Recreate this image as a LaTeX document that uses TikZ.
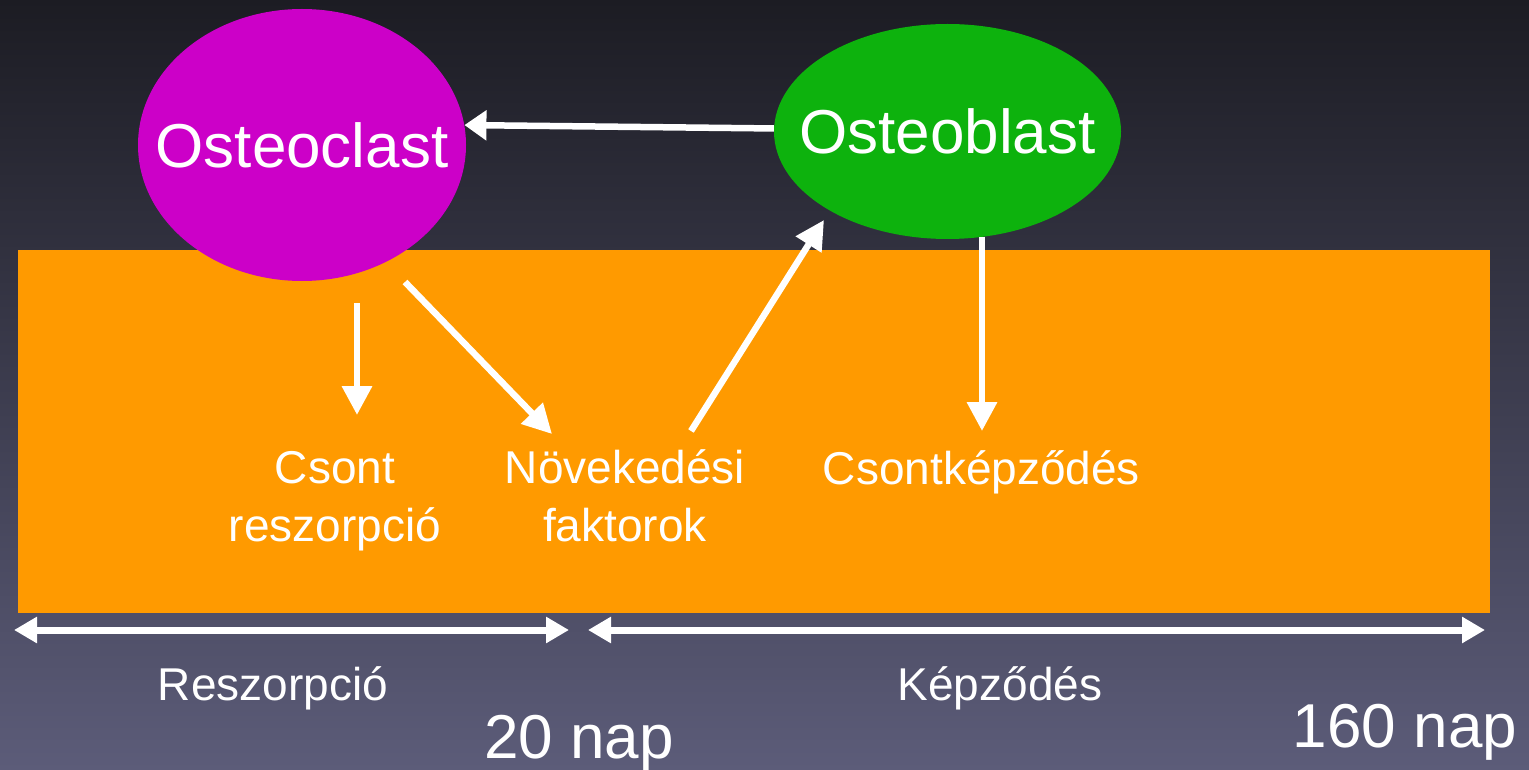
\documentclass[tikz,border=0pt]{standalone}
\usepackage{fontspec}
\setmainfont{Liberation Sans}
\usetikzlibrary{arrows.meta,shapes.geometric}
\definecolor{bgtop}{HTML}{1C1C23}
\definecolor{bgbot}{HTML}{5C5C79}
\definecolor{bone}{HTML}{FF9A00}
\definecolor{ocol}{HTML}{CC00C8}
\definecolor{bcol}{HTML}{0DB20D}
\tikzset{
  cell/.style={ellipse, draw=none, inner sep=0pt, text=white, font=\fontsize{62}{74}\selectfont},
  lab/.style={text=white, inner sep=0pt, align=center, font=\fontsize{46}{58}\selectfont},
  small/.style={text=white, inner sep=0pt, font=\fontsize{46}{54}\selectfont},
  big/.style={text=white, inner sep=0pt, font=\fontsize{62}{74}\selectfont},
  arr/.style={draw=white, line width=6.5pt, -{Triangle[length=29pt,width=29pt]}},
  span/.style={draw=white, line width=7pt, {Triangle[length=23pt,width=25pt]}-{Triangle[length=23pt,width=25pt]}}
}
\begin{document}
\begin{tikzpicture}[x=1pt,y=-1pt]
\useasboundingbox (0,0) rectangle (1529,770);
\shade[top color=bgtop, bottom color=bgbot] (0,0) rectangle (1529,770);
\fill[bone] (18,250) rectangle (1490,613);
\node[cell, fill=ocol, minimum width=328pt, minimum height=272pt] (oc) at (302,145) {\makebox[0pt]{Osteoclast}};
\node[cell, fill=bcol, minimum width=347pt, minimum height=215pt] (ob) at (947.5,131.5) {\makebox[0pt]{Osteoblast}};
% text nodes
\node[lab] (cr) at (335,501) {Csont\\reszorpció};
\node[lab] (nf) at (625,496) {Növekedési\\faktorok};
\node[lab, anchor=base] (ck) at (981.5,484) {Csontképződés};
\node[small, anchor=base] (rl) at (273,700) {Reszorpció};
\node[small, anchor=base] (kl) at (1000,700) {Képződés};
\node[big, anchor=base] (d20) at (579,758) {20 nap};
\node[big, anchor=base] (d160) at (1405,747) {160 nap};
% connector end points
\coordinate (a1s) at (357,303);
\coordinate (a1e) at (357,415);
\coordinate (a2s) at (405,282);
\coordinate (a2e) at (552,434);
\coordinate (a3s) at (691,431);
\coordinate (a3e) at (824,220);
\coordinate (a4s) at (982,237);
\coordinate (a4e) at (982,431);
\coordinate (s1a) at (14,630);
\coordinate (s1b) at (569,630);
\coordinate (s2a) at (588,630);
\coordinate (s2b) at (1485,630);
% connectors
\draw[arr, -{Triangle[length=22pt,width=29pt]}] (ob.179) -- (oc.7);
\draw[arr] (a1s) -- (a1e);
\draw[arr] (a2s) -- (a2e);
\draw[arr] (a3s) -- (a3e);
\draw[arr] (a4s) -- (a4e);
\draw[span] (s1a) -- (s1b);
\draw[span] (s2a) -- (s2b);
\end{tikzpicture}
\end{document}
